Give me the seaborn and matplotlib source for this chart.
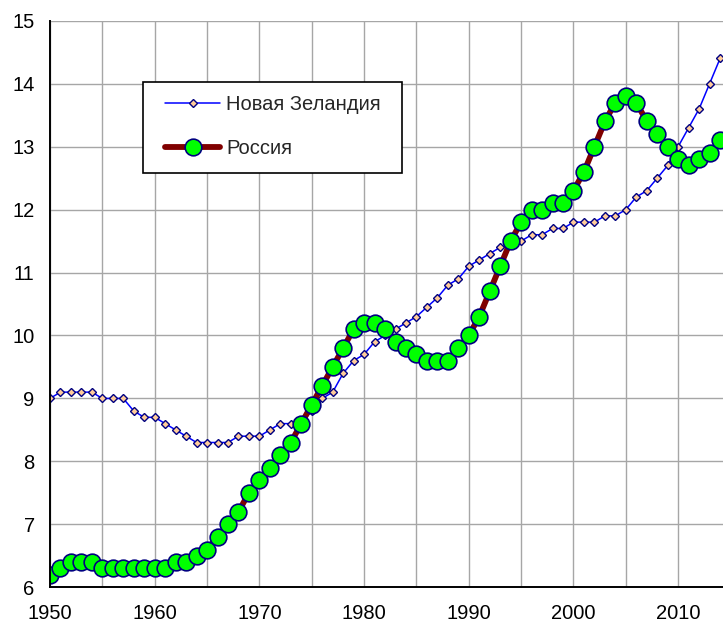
import numpy as np
import pandas as pd
import matplotlib
matplotlib.use("Agg")
import matplotlib.pyplot as plt
import seaborn as sns
from matplotlib.patches import Rectangle

years = list(range(1950, 2015))

nz_values = [
    9.0, 9.1, 9.1, 9.1, 9.1, 9.0, 9.0, 9.0, 8.8, 8.7,
    8.7, 8.6, 8.5, 8.4, 8.3, 8.3, 8.3, 8.3, 8.4, 8.4,
    8.4, 8.5, 8.6, 8.6, 8.6, 8.8, 9.0, 9.1, 9.4, 9.6,
    9.7, 9.9, 10.0, 10.1, 10.2, 10.3, 10.45, 10.6, 10.8, 10.9,
    11.1, 11.2, 11.3, 11.4, 11.45, 11.5, 11.6, 11.6, 11.7, 11.7,
    11.8, 11.8, 11.8, 11.9, 11.9, 12.0, 12.2, 12.3, 12.5, 12.7,
    13.0, 13.3, 13.6, 14.0, 14.4,
]

russia_values = [
    6.2, 6.3, 6.4, 6.4, 6.4, 6.3, 6.3, 6.3, 6.3, 6.3,
    6.3, 6.3, 6.4, 6.4, 6.5, 6.6, 6.8, 7.0, 7.2, 7.5,
    7.7, 7.9, 8.1, 8.3, 8.6, 8.9, 9.2, 9.5, 9.8, 10.1,
    10.2, 10.2, 10.1, 9.9, 9.8, 9.7, 9.6, 9.6, 9.6, 9.8,
    10.0, 10.3, 10.7, 11.1, 11.5, 11.8, 12.0, 12.0, 12.1, 12.1,
    12.3, 12.6, 13.0, 13.4, 13.7, 13.8, 13.7, 13.4, 13.2, 13.0,
    12.8, 12.7, 12.8, 12.9, 13.1,
]

series_names = ["Новая Зеландия", "Россия"]
x_ticks = list(range(1950, 2015, 5))
x_tick_labels = [str(y) if y % 10 == 0 else "" for y in x_ticks]
y_ticks = list(range(6, 16))

df = pd.DataFrame({"year": years, "nz": nz_values, "ru": russia_values})

sns.set_theme(style="white")
plt.rcParams["font.family"] = ["Liberation Sans", "DejaVu Sans"]

W, H = 723, 623
fig = plt.figure(figsize=(W / 100, H / 100), dpi=100)
ax = fig.add_axes([50 / W, 1 - 587.3 / H, (W - 50) / W, (587.3 - 20.7) / H])

sns.lineplot(data=df, x="year", y="nz", ax=ax, color="#0000FF", linewidth=1.1,
             marker="D", markersize=4.4, markerfacecolor="#FFCC99",
             markeredgecolor="#000080", markeredgewidth=1.0,
             label=series_names[0], legend=False)
sns.lineplot(data=df, x="year", y="ru", ax=ax, color="#800000", linewidth=4.2,
             marker="o", markersize=12, markerfacecolor="#00FF00",
             markeredgecolor="#000080", markeredgewidth=1.2,
             solid_capstyle="round", solid_joinstyle="round",
             label=series_names[1], legend=False)

ax.set_xlim(1950, 2014.28)
ax.set_ylim(6, 15)
ax.set_xticks(x_ticks)
ax.set_xticklabels(x_tick_labels)
ax.set_yticks(y_ticks)
ax.set_xlabel("")
ax.set_ylabel("")

ax.grid(True, color="#A6A6A6", linewidth=1.0)
ax.set_axisbelow(True)
for side in ["top", "right"]:
    ax.spines[side].set_visible(False)
for side in ["left", "bottom"]:
    ax.spines[side].set_color("black")
    ax.spines[side].set_linewidth(1.4)
ax.tick_params(axis="both", direction="out", length=5, width=1.2, color="black",
               labelsize=14.5, labelcolor="black")
ax.tick_params(axis="x", pad=7)
ax.tick_params(axis="y", pad=6)
ax.set_facecolor("white")

# legend frame drawn by hand, entries placed inside it
fig.patches.append(Rectangle((143.3 / W, 1 - 172.7 / H), (401.7 - 143.3) / W,
                             (172.7 - 81.7) / H, transform=fig.transFigure,
                             facecolor="white", edgecolor="black", linewidth=1.2,
                             zorder=5))
handles = ax.get_lines()[:2]
leg = fig.legend(handles, series_names, loc="upper left",
                 bbox_to_anchor=(165 / W, 1 - 95.5 / H), frameon=False,
                 fontsize=14.5, borderpad=0, handlelength=2.75, handletextpad=0.3,
                 labelspacing=1.2, borderaxespad=0)
leg.set_zorder(6)

fig.savefig("out.png", dpi=100)
